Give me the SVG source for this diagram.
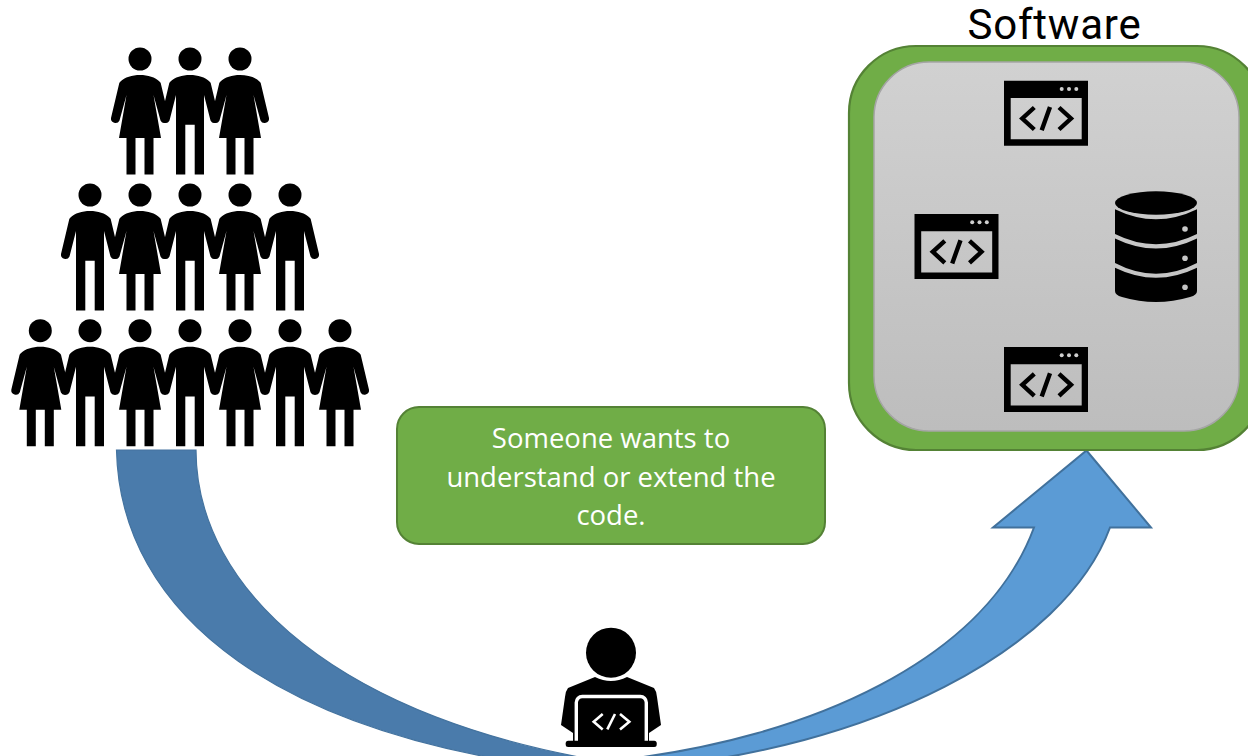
<svg xmlns="http://www.w3.org/2000/svg" xmlns:xlink="http://www.w3.org/1999/xlink" width="1248" height="756" viewBox="0 0 1248 756">
<style>
.label{font-family:"Open Sans","Noto Sans","Liberation Sans",sans-serif}
.title{font-family:Roboto,"Open Sans","Liberation Sans",sans-serif;letter-spacing:.8px}
.code{fill:none;stroke-width:4.4;stroke-linecap:butt}
</style>
<defs>
<linearGradient id="gray" x1="0" y1="0" x2="0" y2="1"><stop offset="0" stop-color="#d1d1d1"/><stop offset="1" stop-color="#bdbdbd"/></linearGradient>
<g id="woman">
<circle cx="0" cy="0" r="11.5"/>
<path d="M0,16C-8,16-15,18-20,23L-20.7,24L-29,59A4.5,4.5 0 0 0-20.5,61.5L-13.5,36L-21,79H-13.5V115.5H-4.5V79H4.5V115.5H13.5V79H21L13.5,36L20.5,61.5A4.5,4.5 0 0 0 29,59L20.7,24L20,23C15,18 8,16 0,16Z"/>
</g>
<g id="man">
<circle cx="0" cy="0" r="11.5"/>
<path d="M0,16C-8,16-15,18-20,23L-20.7,24L-29,59A4.5,4.5 0 0 0-20.5,61.5L-14,36V115.5H-4.7V65.7H4.7V115.5H14V36L20.5,61.5A4.5,4.5 0 0 0 29,59L20.7,24L20,23C15,18 8,16 0,16Z"/>
</g>
<g id="window">
<path fill-rule="evenodd" d="M0,0H84V65H0ZM6.7,17.2V58.5H77.7V17.2Z"/>
<circle cx="57.7" cy="8.2" r="2" fill="#cfcfcf"/><circle cx="65" cy="8.2" r="2" fill="#cfcfcf"/><circle cx="72.3" cy="8.2" r="2" fill="#cfcfcf"/>
<path class="code" stroke="#000" d="M30.3,26.8L18.3,37.8L30.3,48.8M55,26.8L67,37.8L55,48.8M46,26.2L37.7,49.5"/>
</g>
</defs>

<g id="connectors">
<path id="arrow-left" fill="#4a7bab" stroke="#44739f" stroke-width="1.2" d="M116.5,450H196C196,590 340,722 620,764L620,775C270,745 120,610 116.5,450Z"/>
<path id="arrow-right" fill="#5b9bd5" stroke="#41719c" stroke-width="2" d="M620,760C810,738 985,660 1034,527.5H993L1086.5,450.5L1151,527.5H1110C1065,650 870,750 640,768L620,768Z"/>
</g>

<g id="crowd">
<use href="#woman" x="140" y="59"/><use href="#man" x="190" y="59"/><use href="#woman" x="240" y="59"/>
<use href="#man" x="90" y="195"/><use href="#woman" x="140" y="195"/><use href="#man" x="190" y="195"/><use href="#woman" x="240" y="195"/><use href="#man" x="290" y="195"/>
<use href="#woman" x="40.3" y="330.7"/><use href="#man" x="90" y="330.7"/><use href="#woman" x="140" y="330.7"/><use href="#man" x="190" y="330.7"/><use href="#woman" x="240" y="330.7"/><use href="#man" x="290" y="330.7"/><use href="#woman" x="340" y="330.7"/>
</g>

<g id="software">
<rect x="849" y="46" width="415" height="404" rx="67" fill="#70ad47" stroke="#548235" stroke-width="2.2"/>
<rect x="874" y="62" width="365" height="369" rx="55" fill="url(#gray)" stroke="#a5a5a5" stroke-width="1.5"/>
<use href="#window" x="1004" y="80.7"/>
<use href="#window" x="914.5" y="214"/>
<use href="#window" x="1004" y="347"/>
<g id="database">
<ellipse cx="1156" cy="203" rx="41" ry="11.7"/>
<path d="M1115,209.2Q1156,229.2 1197,209.2V234Q1156,254.5 1115,234Z"/>
<path d="M1115,238.5Q1156,258.5 1197,238.5V263Q1156,284.5 1115,263Z"/>
<path d="M1115,267.8Q1156,287.8 1197,267.8V291Q1197,295 1190,297Q1156,307 1122,297Q1115,295 1115,291Z"/>
<circle cx="1185" cy="229" r="2.8" fill="#c9c9c9"/><circle cx="1185" cy="258.3" r="2.8" fill="#c6c6c6"/><circle cx="1185" cy="287.3" r="2.8" fill="#c4c4c4"/>
</g>
<text class="title" x="1054.5" y="39" font-size="42" text-anchor="middle" fill="#000">Software</text>
</g>

<g id="note">
<rect x="397" y="407" width="428" height="137" rx="22" fill="#70ad47" stroke="#548235" stroke-width="2"/>
<g class="label" font-size="27.5" text-anchor="middle" fill="#fff">
<text x="611" y="448">Someone wants to</text>
<text x="611" y="486.5">understand or extend the</text>
<text x="611" y="525">code.</text>
</g>
</g>

<g id="developer">
<circle cx="611" cy="652.7" r="25"/>
<path d="M595,677Q611,685 627,677L654,688Q657,692 657,697L661,725L649,733V742H573V733L561,725L565,697Q565,692 568,688Z"/>
<rect x="576.3" y="696.5" width="70" height="50" rx="6" fill="#000" stroke="#fff" stroke-width="3.4"/>
<rect x="565.7" y="740.7" width="91" height="6.3" rx="2.5"/>
<path fill="none" stroke="#fff" stroke-width="2.6" d="M602.7,714L593.7,721.7L602.7,729.4M620,714L629.3,721.7L620,729.4M615,714L607.3,729.3"/>
</g>
</svg>
